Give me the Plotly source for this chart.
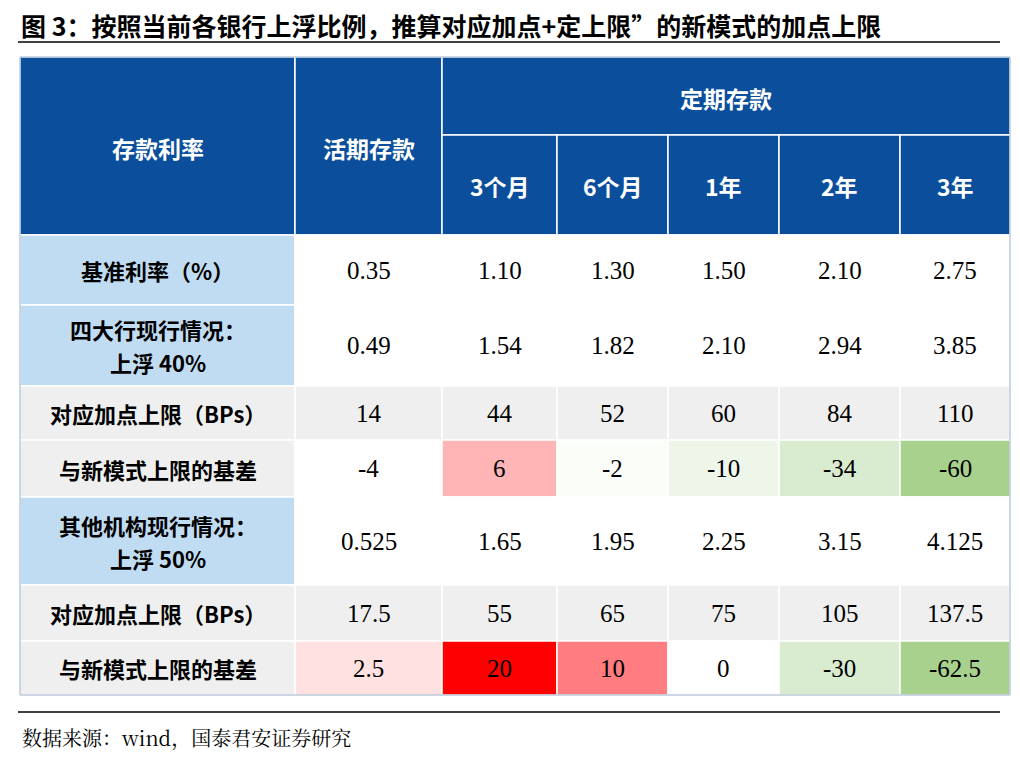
import plotly.graph_objects as go

title = "图 3：按照当前各银行上浮比例，推算对应加点+定上限”的新模式的加点上限"
source = "数据来源：wind，国泰君安证券研究"
col_headers = ["活期存款", "3个月", "6个月", "1年", "2年", "3年"]
row_labels = [["基准利率（%）"], ["四大行现行情况：", "上浮 40%"], ["对应加点上限（BPs）"], ["与新模式上限的基差"],
              ["其他机构现行情况：", "上浮 50%"], ["对应加点上限（BPs）"], ["与新模式上限的基差"]]
values = [
    ["0.35", "1.10", "1.30", "1.50", "2.10", "2.75"],
    ["0.49", "1.54", "1.82", "2.10", "2.94", "3.85"],
    ["14", "44", "52", "60", "84", "110"],
    ["-4", "6", "-2", "-10", "-34", "-60"],
    ["0.525", "1.65", "1.95", "2.25", "3.15", "4.125"],
    ["17.5", "55", "65", "75", "105", "137.5"],
    ["2.5", "20", "10", "0", "-30", "-62.5"],
]

BLUE = "#0b4f9c"; LB = "#c0dcf3"; GR = "#efefef"; W = "#ffffff"
label_fill = [LB, LB, GR, GR, LB, GR, GR]
cell_fill = [
    [W]*6, [W]*6, [GR]*6,
    [W, "#ffb5b5", "#fbfdf9", "#eef6ea", "#d9ecd0", "#a9d18e"],
    [W]*6, [GR]*6,
    ["#ffe1e1", "#ff0000", "#ff7c80", W, "#d9ecd0", "#a9d18e"],
]

xs = [20, 295, 442, 557, 668, 779, 900, 1010]
ys = [235, 305, 386, 440, 497, 585, 641, 695]
top, mid = 57, 135
CJK = "Noto Sans CJK SC"; SERIF = "Liberation Serif"

shapes, ann = [], []
def rect(x0, y0, x1, y1, fill):
    shapes.append(dict(type="rect", xref="x", yref="y", x0=x0, y0=y0, x1=x1, y1=y1,
                       fillcolor=fill, line=dict(color="#ffffff", width=1.5), layer="below"))
def text(x, y, t, size=23, color="black", font=CJK, bold=False):
    ann.append(dict(x=x, y=y, xref="x", yref="y", text=f"<b>{t}</b>" if bold else t, showarrow=False,
                    font=dict(family=font, size=size, color=color)))

rect(xs[0], top, xs[1], ys[0], BLUE); text((xs[0]+xs[1])/2, 148, "存款利率", color="white", bold=True)
rect(xs[1], top, xs[2], ys[0], BLUE); text((xs[1]+xs[2])/2, 148, col_headers[0], color="white", bold=True)
rect(xs[2], top, xs[7], mid, BLUE); text((xs[2]+xs[7])/2, 98, "定期存款", color="white", bold=True)
for j in range(1, 6):
    rect(xs[j+1], mid, xs[j+2], ys[0], BLUE)
    text((xs[j+1]+xs[j+2])/2, 186, col_headers[j], color="white", bold=True)
for i, lab in enumerate(row_labels):
    y0, y1 = ys[i], ys[i+1]; yc = (y0+y1)/2
    rect(xs[0], y0, xs[1], y1, label_fill[i])
    n = len(lab)
    for k, line in enumerate(lab):
        text((xs[0]+xs[1])/2, yc + (k - (n-1)/2)*33, line, size=22, bold=True)
    for j in range(6):
        rect(xs[j+1], y0, xs[j+2], y1, cell_fill[i][j])
        text((xs[j+1]+xs[j+2])/2, yc, values[i][j], size=25, font=SERIF)
shapes.append(dict(type="rect", xref="x", yref="y", x0=xs[0], y0=top, x1=xs[7], y1=ys[-1],
                   line=dict(color="#9bb0c8", width=1)))
for yy in (42, 712):
    shapes.append(dict(type="line", xref="x", yref="y", x0=18, x1=1000, y0=yy, y1=yy,
                       line=dict(color="black", width=1.5)))
ann.append(dict(x=20, y=25, xref="x", yref="y", xanchor="left", text=f"<b>{title}</b>", showarrow=False,
                borderpad=0, font=dict(family=CJK, size=25, color="black")))
ann.append(dict(x=20, y=737, xref="x", yref="y", xanchor="left", text=source, showarrow=False,
                font=dict(family="Noto Serif CJK SC, " + CJK, size=20, color="black")))

# page body has an 8px offset; compensate so shapes land at reference pixel positions
fig = go.Figure()
fig.update_layout(width=1020, height=758, margin=dict(l=0, r=0, t=0, b=0),
                  paper_bgcolor="white", plot_bgcolor="white",
                  xaxis=dict(range=[8, 1028], visible=False, fixedrange=True),
                  yaxis=dict(range=[766, 8], visible=False, fixedrange=True),
                  shapes=shapes, annotations=ann, showlegend=False)
fig.write_html("out.html")
